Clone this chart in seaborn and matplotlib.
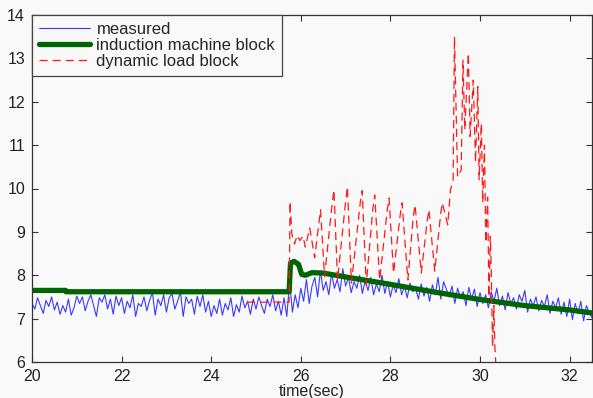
import numpy as np
import pandas as pd
import matplotlib
matplotlib.use("Agg")
import matplotlib.pyplot as plt
import seaborn as sns

# ---------------- data ----------------
meas_t = np.linspace(20.0, 32.5, 201)
meas_v = [
    7.35, 7.22, 7.48, 7.30, 7.12, 7.42, 7.28, 7.50, 7.20, 7.38,
    7.10, 7.30, 7.15, 7.45, 7.08, 7.25, 7.52, 7.35, 7.50, 7.18,
    7.40, 7.55, 7.30, 7.05, 7.48, 7.38, 7.55, 7.22, 7.45, 7.10,
    7.52, 7.30, 7.48, 7.12, 7.40, 7.25, 7.55, 7.05, 7.35, 7.28,
    7.50, 7.18, 7.42, 7.60, 7.08, 7.45, 7.30, 7.55, 7.15, 7.48,
    7.58, 7.22, 7.40, 7.62, 7.05, 7.50, 7.35, 7.45, 7.10, 7.52,
    7.28, 7.55, 7.15, 7.40, 7.05, 7.30, 7.12, 7.45, 7.08, 7.35,
    7.20, 7.48, 7.05, 7.32, 7.15, 7.52, 7.25, 7.40, 7.10, 7.45,
    7.22, 7.50, 7.30, 7.12, 7.45, 7.28, 7.55, 7.18, 7.40, 7.08,
    7.48, 7.05, 7.85, 7.15, 7.55, 7.25, 7.70, 7.40, 7.90, 7.35,
    7.75, 7.95, 7.50, 8.10, 7.65, 7.85, 7.55, 8.05, 7.70, 7.90,
    7.62, 8.15, 7.75, 7.95, 7.60, 7.85, 7.70, 8.00, 7.58, 7.88,
    7.65, 7.95, 7.55, 7.80, 7.62, 8.00, 7.58, 7.85, 7.50, 7.78,
    7.60, 7.92, 7.55, 7.75, 7.48, 7.82, 7.62, 7.70, 7.45, 7.80,
    7.52, 7.72, 7.40, 7.78, 7.55, 7.95, 7.45, 7.85, 7.68, 7.50,
    7.75, 7.35, 7.70, 7.48, 7.62, 7.30, 7.72, 7.45, 7.68, 7.28,
    7.60, 7.35, 7.55, 7.25, 7.62, 7.40, 7.70, 7.30, 7.52, 7.20,
    7.60, 7.35, 7.48, 7.22, 7.55, 7.40, 7.65, 7.15, 7.45, 7.30,
    7.50, 7.18, 7.42, 7.28, 7.55, 7.12, 7.40, 7.25, 7.48, 7.10,
    7.38, 7.05, 7.45, 6.98, 7.35, 7.12, 7.40, 6.95, 7.30, 7.15,
    7.02,
]

ind_t = [20.0, 20.75, 20.76, 25.74, 25.77, 25.85, 25.95, 26.02, 26.10,
         26.25, 26.50, 27.0, 28.0, 29.0, 30.0, 31.0, 32.0, 32.5]
ind_v = [7.65, 7.65, 7.62, 7.62, 8.28, 8.32, 8.25, 8.02, 8.00,
         8.06, 8.05, 7.96, 7.79, 7.61, 7.44, 7.30, 7.20, 7.13]

dyn_t = [24.80, 25.74, 25.76, 25.80, 25.86, 25.92, 25.98, 26.05, 26.10,
         26.20, 26.31, 26.44, 26.53, 26.70, 26.74, 26.82, 27.00, 27.04,
         27.13, 27.33, 27.37, 27.46, 27.61, 27.65, 27.76, 27.93, 27.97,
         28.07, 28.22, 28.26, 28.39, 28.51, 28.55, 28.69, 28.82, 28.86,
         28.99, 29.12, 29.16, 29.28, 29.34, 29.40, 29.43, 29.50, 29.58,
         29.62, 29.66, 29.74, 29.78, 29.85, 29.90, 29.95, 29.98, 30.03,
         30.06, 30.10, 30.13, 30.17, 30.20, 30.23, 30.25, 30.28, 30.31,
         30.33, 30.36]
dyn_v = [7.38, 7.38, 9.70, 8.95, 8.72, 8.92, 8.80, 8.90, 8.65,
         9.09, 8.40, 9.51, 7.97, 9.65, 9.97, 7.89, 9.70, 10.04,
         7.82, 9.70, 9.95, 7.78, 9.55, 9.85, 7.89, 9.50, 9.78,
         8.05, 9.40, 9.67, 7.89, 9.35, 9.62, 8.05, 9.25, 9.51,
         8.09, 9.40, 9.67, 9.16, 9.97, 10.20, 13.50, 10.27, 10.43,
         12.96, 11.35, 13.12, 11.20, 12.50, 10.60, 12.35, 10.20, 11.50,
         9.67, 11.00, 8.75, 9.80, 7.50, 8.90, 8.20, 6.35, 7.30,
         6.40, 5.80]

labels = ["measured", "induction machine block", "dynamic load block"]

# ---------------- style ----------------
sns.set_style("ticks")
plt.rcParams["font.family"] = ["Liberation Sans", "DejaVu Sans"]
bg = "#f9f9f9"

fig = plt.figure(figsize=(5.93, 3.98), dpi=100, facecolor=bg)
ax = fig.add_axes([32 / 593, 36 / 398, 560 / 593, 347 / 398])
ax.set_facecolor(bg)

df_m = pd.DataFrame({"t": meas_t, "v": meas_v})
df_i = pd.DataFrame({"t": ind_t, "v": ind_v})
df_d = pd.DataFrame({"t": dyn_t, "v": dyn_v})

sns.lineplot(data=df_m, x="t", y="v", ax=ax, color="#3a3aff", lw=0.8,
             estimator=None, sort=False, label=labels[0])
sns.lineplot(data=df_i, x="t", y="v", ax=ax, color="#006400", lw=3.8,
             estimator=None, sort=False, label=labels[1])
l3 = sns.lineplot(data=df_d, x="t", y="v", ax=ax, color="#ff1a1a", lw=0.9,
                  estimator=None, sort=False, label=labels[2]).lines[-1]
l3.set_dashes((6.5, 4))

ax.set_xlim(20, 32.5)
ax.set_ylim(6, 14)
ax.set_xticks([20, 22, 24, 26, 28, 30, 32])
ax.set_yticks([6, 7, 8, 9, 10, 11, 12, 13, 14])
ax.set_xlabel("time(sec)", fontsize=11.5, color="#222222", labelpad=0)
ax.set_ylabel("")
ax.tick_params(direction="in", length=4, width=0.8, top=True, right=True,
               labelsize=11.5, labelcolor="#222222", color="#333333", pad=5)
for s in ax.spines.values():
    s.set_visible(True)
    s.set_color("#333333")
    s.set_linewidth(0.9)

leg = ax.legend(loc="upper left", borderaxespad=0, fontsize=12,
                handlelength=3.05, handletextpad=0.4, borderpad=0.42,
                labelspacing=0.06, fancybox=False, framealpha=1,
                edgecolor="#444444", facecolor=bg)
leg.get_frame().set_linewidth(0.9)
leg.get_lines()[2].set_dashes((6.5, 4))

fig.savefig("out.png", dpi=100, facecolor=bg)
